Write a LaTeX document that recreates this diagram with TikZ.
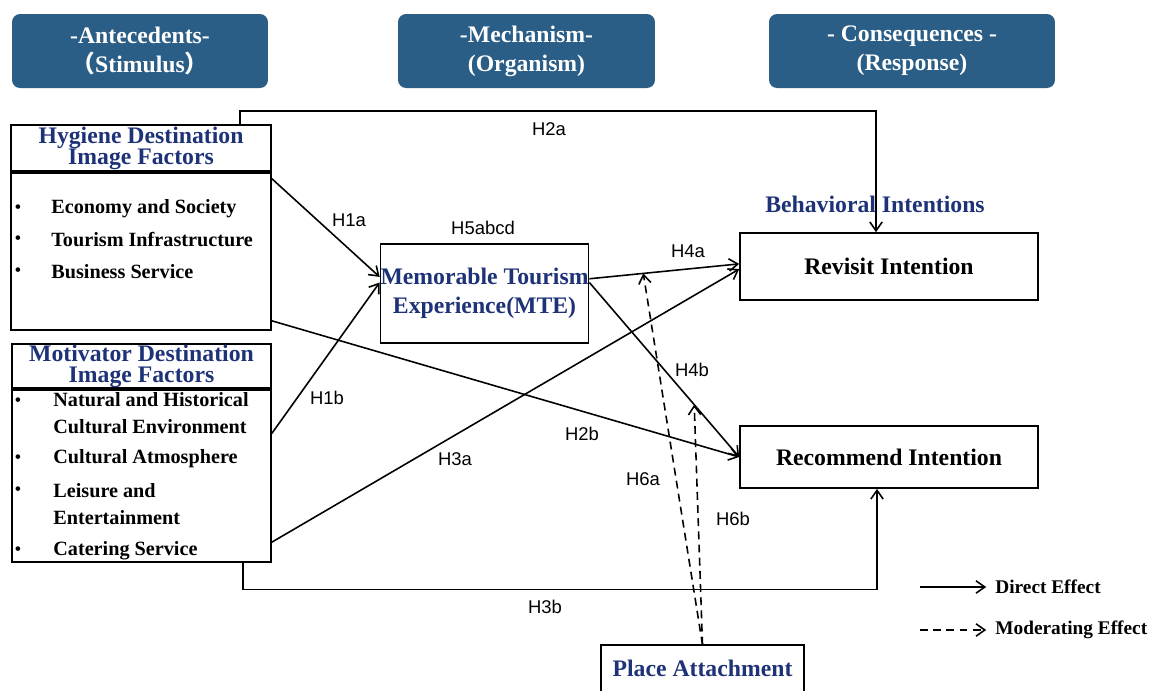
\documentclass[tikz,border=0pt]{standalone}
\usepackage{fontspec}
\setmainfont{Liberation Serif}
\newfontfamily\hfont{Liberation Sans}
\newfontfamily\cjk{Noto Sans CJK SC}
\usetikzlibrary{arrows.meta}
\definecolor{hdrblue}{RGB}{43,94,134}
\definecolor{navy}{RGB}{30,50,120}

\begin{document}
\begin{tikzpicture}[x=0.02cm,y=-0.02cm,
    >={Straight Barb[length=5pt,width=7pt]},
    header/.style={fill=hdrblue,rounded corners=0.16cm,text=white,align=center,inner sep=0pt,
      minimum height=1.48cm,font=\fontsize{13.5}{16.4}\selectfont\bfseries},
    box/.style={draw,line width=1pt,inner sep=0pt,align=center,font=\fontsize{13.5}{12}\selectfont\bfseries},
    title/.style={box,text=navy},
    item/.style={anchor=west,inner sep=0pt,align=left,font=\fontsize{11.5}{15.3}\selectfont\bfseries},
    dot/.style={inner sep=0pt,font=\fontsize{11}{11}\selectfont},
    hyp/.style={inner sep=1pt,font=\hfont\fontsize{10.5}{12}\selectfont},
    effect/.style={->,line width=0.9pt},
    moder/.style={effect,dash pattern=on 4.5pt off 3pt},
    legend/.style={anchor=west,inner sep=0pt,font=\fontsize{11}{13}\selectfont\bfseries}]
  \useasboundingbox (0,0) rectangle (1153,691);

  % stage headers
  \node[header,minimum width=5.12cm] (ante) at (140,51)   {-Antecedents-\\{\cjk （}Stimulus{\cjk ）}};
  \node[header,minimum width=5.14cm] (mech) at (526.5,51) {-Mechanism-\\(Organism)};
  \node[header,minimum width=5.72cm] (cons) at (912,51)   {- Consequences -\\(Response)};

  % destination image factors
  \node[title,minimum width=5.2cm,minimum height=0.92cm] (hyg) at (141,148) {Hygiene Destination\\Image Factors};
  \node[box,minimum width=5.2cm,minimum height=3.14cm,anchor=north] (hygbody) at (hyg.south) {};
  \node[title,minimum width=5.18cm,minimum height=0.88cm] (mot) at (141.5,366) {Motivator Destination\\Image Factors};
  \node[box,minimum width=5.18cm,minimum height=3.44cm,anchor=north] (motbody) at (mot.south) {};

  \node[item] (eco)   at (51,209)   {Economy and Society};
  \node[item] (infra) at (51,240)   {Tourism Infrastructure};
  \node[item] (biz)   at (51,272)   {Business Service};
  \node[item] (nat)   at (53,413.5) {Natural and Historical\\Cultural Environment};
  \node[item] (atmo)  at (53,459)   {Cultural Atmosphere};
  \node[item] (leis)  at (53,504.5) {Leisure and\\Entertainment};
  \node[item] (cater) at (53,551)   {Catering Service};
  \foreach \y [count=\i] in {209,240,272,402,459,491,551}
    \node[dot] (bul\i) at (18,\y) {•};

  % mechanism and consequences
  \node[title,minimum width=4.14cm,minimum height=1.98cm,font=\fontsize{13.5}{16.4}\selectfont\bfseries] (mte) at (484.5,293.5) {Memorable Tourism\\Experience(MTE)};
  \node[inner sep=1pt,text=navy,font=\fontsize{13.5}{16}\selectfont\bfseries] (behav) at (875,204) {Behavioral Intentions};
  \node[box,minimum width=5.96cm,minimum height=1.34cm] (rev) at (889,266.5) {Revisit Intention};
  \node[box,minimum width=5.96cm,minimum height=1.24cm] (rec) at (889,457)   {Recommend Intention};

  % moderator, cut at the lower edge
  \node[inner sep=0pt,minimum width=4.06cm,minimum height=0.92cm,text=navy,font=\fontsize{13.5}{16}\selectfont\bfseries] (place) at (702.5,668) {Place Attachment};
  \draw[line width=1pt] (place.south west) |- (place.north east) -- (place.south east);

  % paths
  \draw[effect] ([xshift=1.98cm]hyg.north) -- ++(0,-13) -| ([xshift=-0.26cm]rev.north);
  \draw[effect] (hygbody.29) -- (mte.171);
  \draw[effect] (motbody.18) -- (mte.174);
  \draw[effect] (hygbody.-28) -- (rec.west);
  \draw[effect] (motbody.-27) -- (rev.181);
  \draw[effect] (mte.8) -- coordinate[pos=0.36] (on4a) (rev.179);
  \draw[effect] (mte.6) -- coordinate[pos=0.7] (on4b) (rec.west);
  \draw[effect] ([xshift=2.03cm]motbody.south) -- ++(0,27) -| ([xshift=-0.24cm]rec.south);
  \draw[moder] (place.north) -- (on4a);
  \draw[moder] (place.north) -- (on4b);

  % hypothesis labels
  \node[hyp] (h2a) at (549,129) {H2a};
  \node[hyp] (h1a) at (349,220) {H1a};
  \node[hyp] (h5)  at (483,228) {H5abcd};
  \node[hyp] (h4a) at (688,251) {H4a};
  \node[hyp] (h4b) at (692,370) {H4b};
  \node[hyp] (h1b) at (327,398) {H1b};
  \node[hyp] (h2b) at (582,434) {H2b};
  \node[hyp] (h3a) at (455,459) {H3a};
  \node[hyp] (h6a) at (643,479) {H6a};
  \node[hyp] (h6b) at (733,519) {H6b};
  \node[hyp] (h3b) at (545,607) {H3b};

  % legend
  \coordinate (dirfrom) at (920,587);
  \coordinate (modfrom) at (920,630);
  \node[legend] (direct) at (995,587) {Direct Effect};
  \node[legend] (moderating) at (995,630) {Moderating Effect};
  \draw[effect,shorten >=5pt] (dirfrom) -- (direct.west);
  \draw[moder,shorten >=5pt] (modfrom) -- (moderating.west);
\end{tikzpicture}
\end{document}
